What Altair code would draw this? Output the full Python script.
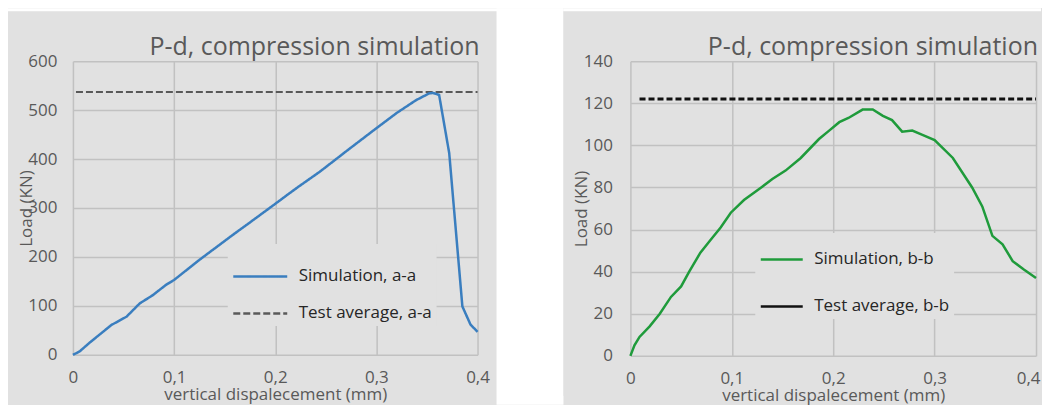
import altair as alt
import pandas as pd

FONT = "Open Sans"
PANEL = "#e1e1e1"
GRID = "#c1c1c1"
AXIS_TXT = "#595959"
LEG_TXT = "#262626"

x_ticks = [0, 0.1, 0.2, 0.3, 0.4]
x_title = "vertical dispalecement (mm)"
y_title = "Load (KN)"
chart_title = "P-d, compression simulation"

# ---- left panel (a-a)
aa_names = ["Simulation, a-a", "Test average, a-a"]
aa_colors = ["#3a7ebf", "#595959"]
aa_sim_x = [0, 0.0066, 0.016, 0.038, 0.053, 0.066, 0.079, 0.092, 0.100, 0.125,
            0.158, 0.174, 0.201, 0.214, 0.224, 0.244, 0.274, 0.300, 0.320, 0.339,
            0.352, 0.356, 0.362, 0.372, 0.385, 0.393, 0.400]
aa_sim_y = [0, 7, 24, 61, 78, 105, 122, 143, 153, 194,
            245, 269, 310, 330, 345, 374, 422, 463, 494, 520,
            534, 535, 531, 412, 99, 62, 47]
aa_test_x = [0.003, 0.4]
aa_test_y = [537, 537]
aa_y_ticks = [0, 100, 200, 300, 400, 500, 600]

# ---- right panel (b-b)
bb_names = ["Simulation, b-b", "Test average, b-b"]
bb_colors = ["#1f9b3b", "#111111"]
bb_sim_x = [0, 0.004, 0.009, 0.019, 0.029, 0.040, 0.050, 0.058, 0.069, 0.079,
            0.089, 0.099, 0.112, 0.129, 0.140, 0.153, 0.168, 0.186, 0.196, 0.206,
            0.215, 0.229, 0.239, 0.249, 0.258, 0.268, 0.278, 0.288, 0.300, 0.318,
            0.337, 0.347, 0.357, 0.367, 0.377, 0.388, 0.400]
bb_sim_y = [0, 5, 9, 14, 20, 28, 33, 40, 49, 55,
            61, 68, 74, 80, 84, 88, 94, 103, 107, 111,
            113, 117, 117, 114, 112, 106.5, 107, 105, 102.5, 94,
            80, 71, 57, 53, 45, 41, 37]
bb_test_x = [0.009, 0.4]
bb_test_y = [122, 122]
bb_y_ticks = [0, 20, 40, 60, 80, 100, 120, 140]

ONE = pd.DataFrame({"k": [0]})


def deco_rect(x1, x2, y1, y2, fill):
    return alt.Chart(ONE).mark_rect(fill=fill, strokeWidth=0).encode(
        x=alt.value(x1), x2=alt.value(x2), y=alt.value(y1), y2=alt.value(y2))


def panel(names, colors, sim_x, sim_y, test_x, test_y, y_ticks, W, H,
          left_ext, right_ext, y_title_x, y_label_pad, leg_x, leg_y, sym_len,
          row_pad, dashed_legend, test_width, flush_last):
    sim = pd.DataFrame({"x": sim_x, "y": sim_y, "series": names[0]})
    test = pd.DataFrame({"x": test_x, "y": test_y, "series": names[1]})

    last = x_ticks[-1]
    x_axis_extra = {}
    if flush_last:
        x_axis_extra = dict(
            labelAlign={"condition": {"test": f"datum.value >= {last}", "value": "right"},
                        "value": "center"},
            labelOffset={"condition": {"test": f"datum.value >= {last}", "value": 4},
                         "value": 0})

    X = alt.X("x:Q",
              scale=alt.Scale(domain=[x_ticks[0], last], nice=False, zero=False),
              axis=alt.Axis(values=x_ticks, grid=True, gridColor=GRID, gridWidth=1.5,
                            domain=False, ticks=False,
                            labelExpr="datum.value == 0 ? '0' : replace(format(datum.value, '.1f'), '.', ',')",
                            labelFont=FONT, labelFontSize=17, labelColor=AXIS_TXT,
                            labelPadding=15, labelFlush=False,
                            title=x_title, titleFont=FONT, titleFontSize=17,
                            titleFontWeight="normal", titleColor=AXIS_TXT, titlePadding=1,
                            **x_axis_extra))
    Y = alt.Y("y:Q",
              scale=alt.Scale(domain=[y_ticks[0], y_ticks[-1]], nice=False),
              axis=alt.Axis(values=y_ticks, grid=True, gridColor=GRID, gridWidth=1.5,
                            domain=False, ticks=False,
                            labelFont=FONT, labelFontSize=17, labelColor=AXIS_TXT,
                            labelPadding=y_label_pad, labelFlush=False,
                            title=y_title, titleFont=FONT, titleFontSize=17,
                            titleFontWeight="normal", titleColor=AXIS_TXT,
                            titleX=y_title_x, titleY=H / 2, titleAngle=270,
                            titleAlign="center", titleBaseline="middle"))

    legend = alt.Legend(orient="none", legendX=leg_x, legendY=leg_y,
                        fillColor=PANEL, padding=4, symbolType="stroke",
                        symbolSize=sym_len * sym_len, symbolStrokeWidth=2.5,
                        labelFont=FONT, labelFontSize=17, labelColor=LEG_TXT,
                        labelLimit=400, labelOffset=10, rowPadding=row_pad)
    color = alt.Color("series:N", title=None,
                      scale=alt.Scale(domain=names, range=colors), legend=legend)

    enc = dict(x=X, y=Y, color=color)
    if dashed_legend:
        enc["strokeDash"] = alt.StrokeDash("series:N", title=None,
                                           scale=alt.Scale(domain=names, range=[[1, 0], [7, 3]]),
                                           legend=legend)
        test_line = alt.Chart(test).mark_line(strokeWidth=test_width).encode(**enc)
    else:
        test_line = alt.Chart(test).mark_line(strokeWidth=test_width, strokeDash=[6, 3]).encode(**enc)
    sim_line = alt.Chart(sim).mark_line(strokeWidth=2.5).encode(**enc)

    title = alt.Chart(ONE).mark_text(text=chart_title, font=FONT, fontSize=25,
                                     color=AXIS_TXT, align="right",
                                     baseline="alphabetic").encode(
        x=alt.value(W + 2), y=alt.value(-6))

    layers = [
        deco_rect(-left_ext, -left_ext + 5, -50, H + 40, PANEL),
        deco_rect(-left_ext, W + right_ext, -53, -50, "white"),
    ]
    if right_ext > 30:
        layers.append(deco_rect(W + 19, W + right_ext, -53, H + 50, "white"))
    layers += [test_line, sim_line, title]
    return alt.layer(*layers).properties(width=W, height=H)


left = panel(aa_names, aa_colors, aa_sim_x, aa_sim_y, aa_test_x, aa_test_y,
             aa_y_ticks, 405, 294, 65, 86, -46, 16, 155, 183, 54, 0, True, 2, False)
right = panel(bb_names, bb_colors, bb_sim_x, bb_sim_y, bb_test_x, bb_test_y,
              bb_y_ticks, 406, 295, 67, 5, -49, 18, 125, 172, 42, 16, False, 3, True)

chart = alt.hconcat(left, right, spacing=0).resolve_scale(
    color="independent", strokeDash="independent"
).configure(
    background=PANEL, padding={"left": 0, "top": 0, "right": 0, "bottom": 0}
).configure_view(strokeWidth=0)

chart.save("out.html", embed_options={"renderer": "svg", "actions": False})
